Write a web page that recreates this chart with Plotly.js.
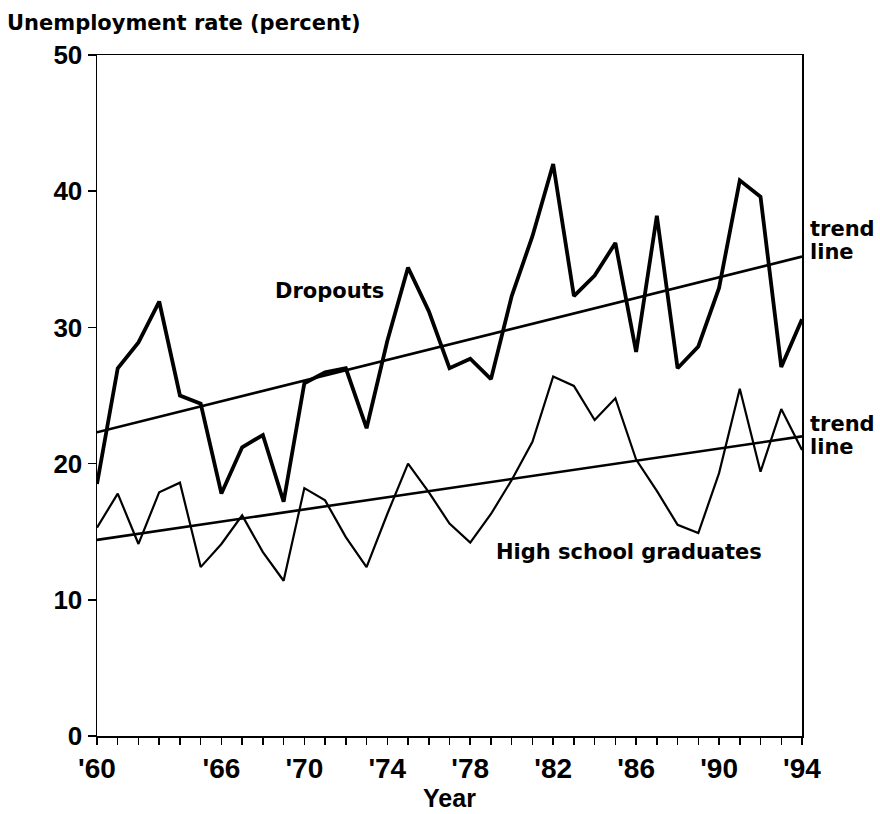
<!DOCTYPE html>
<html>
<head>
<meta charset="utf-8">
<script src="https://cdn.plot.ly/plotly-3.0.1.min.js"></script>
<style>html,body{margin:0;padding:0;background:#fff;}#chart{width:880px;height:814px;}</style>
</head>
<body>
<div id="chart"></div>
<script>
const years = [1960,1961,1962,1963,1964,1965,1966,1967,1968,1969,1970,1971,1972,1973,1974,1975,1976,1977,1978,1979,1980,1981,1982,1983,1984,1985,1986,1987,1988,1989,1990,1991,1992,1993,1994];
const dropouts = [18.5,27.0,28.9,31.9,25.0,24.4,17.8,21.2,22.1,17.2,25.9,26.7,27.0,22.6,29.0,34.4,31.2,27.0,27.7,26.2,32.3,36.7,42.0,32.3,33.8,36.2,28.2,38.2,27.0,28.6,32.9,40.8,39.6,27.1,30.6];
const hsGrads = [15.3,17.8,14.1,17.9,18.6,12.4,14.1,16.2,13.5,11.4,18.2,17.3,14.6,12.4,16.3,20.0,17.9,15.6,14.2,16.3,18.8,21.6,26.4,25.7,23.2,24.8,20.3,18.0,15.5,14.9,19.3,25.5,19.4,24.0,21.0];
const trendYears = [1960, 1994];
const dropoutTrend = [22.3, 35.2];
const hsTrend = [14.4, 22.0];
const xTickVals = [1960,1966,1970,1974,1978,1982,1986,1990,1994];
const xTickText = ["'60","'66","'70","'74","'78","'82","'86","'90","'94"];
const yTickVals = [0,10,20,30,40,50];

const black = '#000';
const traces = [
  {x: years, y: dropouts, mode:'lines', line:{color:black, width:3.8}, hoverinfo:'skip'},
  {x: years, y: hsGrads, mode:'lines', line:{color:black, width:2.2}, hoverinfo:'skip'},
  {x: trendYears, y: dropoutTrend, mode:'lines', line:{color:black, width:2.6}, hoverinfo:'skip'},
  {x: trendYears, y: hsTrend, mode:'lines', line:{color:black, width:2.6}, hoverinfo:'skip'}
];

const lblFont = {family:'DejaVu Sans, sans-serif', size:21, color:black, weight:700};
const tickFam = 'Liberation Sans, Arial, sans-serif';
const layout = {
  width:880, height:814,
  margin:{l:97, r:78, t:55, b:78},
  paper_bgcolor:'#fff', plot_bgcolor:'#fff',
  showlegend:false,
  xaxis:{
    range:[1960,1994], showgrid:false, zeroline:false,
    showline:true, linecolor:black, linewidth:1.5, mirror:true,
    tickmode:'array', tickvals:xTickVals, ticktext:xTickText,
    ticks:'outside', ticklen:7, tickwidth:1.5, tickcolor:black,
    minor:{dtick:1, tick0:1960, ticks:'outside', ticklen:7, tickwidth:1.5, tickcolor:black, showgrid:false},
    tickfont:{family:tickFam, size:28, color:black, weight:700},
    title:{text:'Year', font:{family:tickFam, size:25, color:black, weight:700}, standoff:4}
  },
  yaxis:{
    range:[0,50], showgrid:false, zeroline:false,
    showline:true, linecolor:black, linewidth:1.5, mirror:true,
    tickmode:'array', tickvals:yTickVals,
    ticks:'outside', ticklen:8, tickwidth:1.5, tickcolor:black,
    tickfont:{family:tickFam, size:26, color:black, weight:700}
  },
  annotations:[
    {text:'Unemployment rate (percent)', xref:'paper', yref:'paper', x:-0.131, y:1.026, xanchor:'left', yanchor:'bottom', showarrow:false, font:lblFont},
    {text:'Dropouts', xref:'x', yref:'y', x:1971.2, y:32.7, xanchor:'center', yanchor:'middle', showarrow:false, font:lblFont},
    {text:'High school graduates', xref:'x', yref:'y', x:1985.65, y:13.5, xanchor:'center', yanchor:'middle', showarrow:false, font:lblFont},
    {text:'trend', xref:'paper', yref:'y', x:1.009, y:37.2, xanchor:'left', yanchor:'middle', showarrow:false, font:lblFont},
    {text:'line', xref:'paper', yref:'y', x:1.009, y:35.5, xanchor:'left', yanchor:'middle', showarrow:false, font:lblFont},
    {text:'trend', xref:'paper', yref:'y', x:1.009, y:22.9, xanchor:'left', yanchor:'middle', showarrow:false, font:lblFont},
    {text:'line', xref:'paper', yref:'y', x:1.009, y:21.2, xanchor:'left', yanchor:'middle', showarrow:false, font:lblFont}
  ]
};
Plotly.newPlot('chart', traces, layout, {displayModeBar:false, staticPlot:true});
</script>
</body>
</html>
